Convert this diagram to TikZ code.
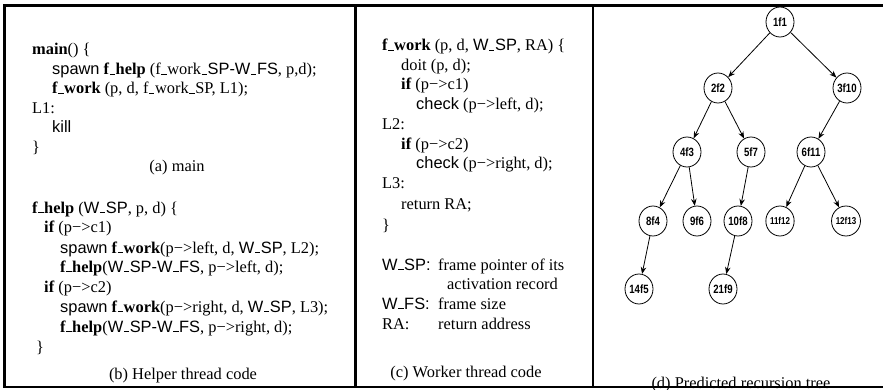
\documentclass[tikz,border=0pt]{standalone}
\usepackage{fontspec}
\setmainfont{Liberation Serif}
\setsansfont{Liberation Sans}
\newfontfamily\treefont[FakeStretch=0.8]{Liberation Sans}
\usetikzlibrary{arrows.meta,shapes.geometric}
\newcommand\us{\leavevmode\kern.04em\rule[-0.02em]{0.32em}{0.09em}\kern.04em}
\newcommand\sfx[1]{{\sffamily #1}}
\tikzset{
  code/.style={anchor=base west, inner sep=0pt, font=\fontsize{16.4}{19.7}\selectfont},
  capt/.style={anchor=base, inner sep=0pt, font=\fontsize{16.4}{19.7}\selectfont},
  tnode/.style={draw, ellipse, line width=0.8pt, minimum width=28pt, minimum height=30pt, inner sep=0pt, font=\treefont\bfseries\fontsize{12}{12}\selectfont},
  tsmall/.style={font=\treefont\bfseries\fontsize{10}{10}\selectfont},
  arr/.style={line width=0.8pt, -{Stealth[length=7pt,width=5.5pt]}},
  frame/.style={line width=2.7pt}
}
\begin{document}
\begin{tikzpicture}[x=1pt,y=-1pt]
\useasboundingbox (0,0) rectangle (883,390);
% panel (a)
\node[code] (a1) at (32,55) {\textbf{main}() \{};
\node[code] (a2) at (52,75) {\sfx{spawn} \textbf{f\us help} (f\us work\us\sfx{SP-W\us FS}, p,d);};
\node[code] (a3) at (52,94) {\textbf{f\us work} (p, d, f\us work\us SP, L1);};
\node[code] (a4) at (32,114) {L1:};
\node[code] (a5) at (52,133) {\sfx{kill}};
\node[code] (a6) at (32,153) {\}};
\node[capt] (acap) at (177,172) {(a) main};
% panel (b)
\node[code] (b1) at (32,213) {\textbf{f\us help} (\sfx{W\us SP}, p, d) \{};
\node[code] (b2) at (44,233) {\textbf{if} (p−>c1)};
\node[code] (b3) at (60,253) {\sfx{spawn} \textbf{f\us work}(p−>left, d, \sfx{W\us SP}, L2);};
\node[code] (b4) at (60,272) {\textbf{f\us help}(\sfx{W\us SP-W\us FS}, p−>left, d);};
\node[code] (b5) at (44,292) {\textbf{if} (p−>c2)};
\node[code] (b6) at (60,312) {\sfx{spawn} \textbf{f\us work}(p−>right, d, \sfx{W\us SP}, L3);};
\node[code] (b7) at (60,332) {\textbf{f\us help}(\sfx{W\us SP-W\us FS}, p−>right, d);};
\node[code] (b8) at (36,352) {\}};
\node[capt] (bcap) at (183,379) {(b) Helper thread code};
% panel (c)
\node[code] (c1) at (382,51) {\textbf{f\us work} (p, d, \sfx{W\us SP}, RA) \{};
\node[code] (c2) at (401,71) {doit (p, d);};
\node[code] (c3) at (401,90) {\textbf{if} (p−>c1)};
\node[code] (c4) at (416,110) {\sfx{check} (p−>left, d);};
\node[code] (c5) at (382,130) {L2:};
\node[code] (c6) at (401,150) {\textbf{if} (p−>c2)};
\node[code] (c7) at (416,169) {\sfx{check} (p−>right, d);};
\node[code] (c8) at (382,189) {L3:};
\node[code] (c9) at (401,210) {return RA;};
\node[code] (c10) at (382,230) {\}};
\node[code] (c11) at (382,270) {\sfx{W\us SP:}};
\node[code] (c12) at (438,270) {frame pointer of its};
\node[code] (c13) at (447,289) {activation record};
\node[code] (c14) at (382,309) {\sfx{W\us FS:}};
\node[code] (c15) at (438,309) {frame size};
\node[code] (c16) at (382,329) {RA:};
\node[code] (c17) at (438,329) {return address};
\node[capt] (ccap) at (466,377) {(c) Worker thread code};
% panel (d)
\node[tnode] (n1) at (780,22) {1f1};
\node[tnode] (n2) at (718,88) {2f2};
\node[tnode] (n3) at (847,88) {3f10};
\node[tnode] (n4) at (687,152) {4f3};
\node[tnode] (n5) at (751,152) {5f7};
\node[tnode] (n6) at (811,152) {6f11};
\node[tnode] (n8) at (653,221) {8f4};
\node[tnode] (n9) at (697,221) {9f6};
\node[tnode] (n10) at (738,221) {10f8};
\node[tnode,tsmall] (n11) at (780,221) {11f12};
\node[tnode,tsmall] (n12) at (846,221) {12f13};
\node[tnode] (n14) at (639,289) {14f5};
\node[tnode] (n21) at (723,289) {21f9};
\draw[arr] (n1) -- (n2);
\draw[arr] (n1) -- (n3);
\draw[arr] (n2) -- (n4);
\draw[arr] (n2) -- (n5);
\draw[arr] (n3) -- (n6);
\draw[arr] (n4) -- (n8);
\draw[arr] (n4) -- (n9);
\draw[arr] (n5) -- (n10);
\draw[arr] (n6) -- (n11);
\draw[arr] (n6) -- (n12);
\draw[arr] (n8) -- (n14);
\draw[arr] (n10) -- (n21);
\node[capt] (dcap) at (741,388) {(d) Predicted recursion tree};
% frame
\coordinate (tl) at (4.7,5.5);
\coordinate (tr) at (883,5.5);
\coordinate (bl) at (4.7,387);
\coordinate (br) at (883,387);
\draw[frame] (tr) -- (tl) -- (bl) -- (br);
\draw[frame] (355.5,5.5) -- (355.5,387);
\draw[frame] (593,5.5) -- (593,387);
\end{tikzpicture}
\end{document}
